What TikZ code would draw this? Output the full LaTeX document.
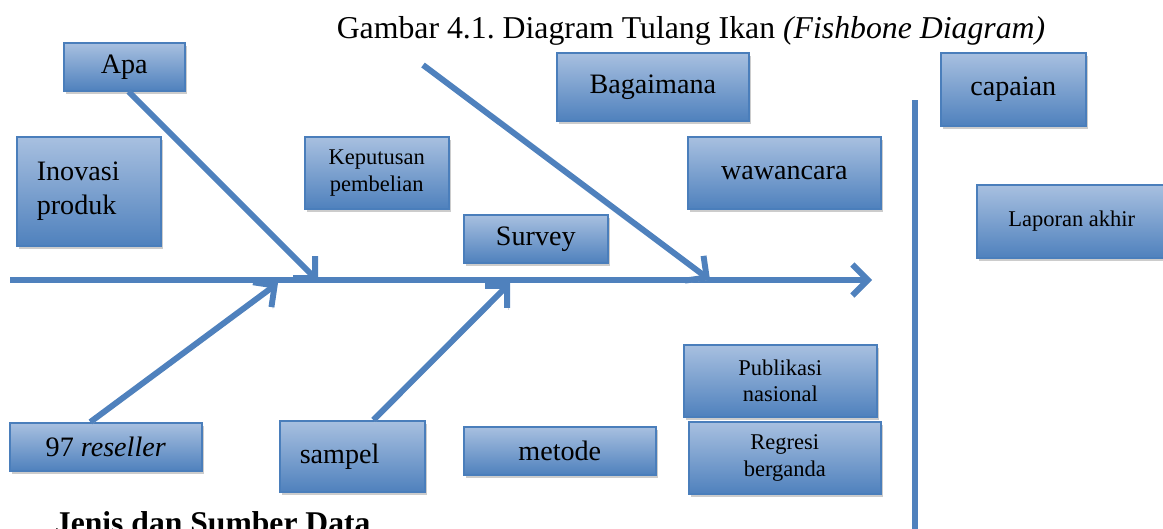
\documentclass[tikz,border=0pt]{standalone}
\usepackage{fontspec}
\setmainfont{Liberation Serif}
\usetikzlibrary{arrows.meta, positioning, shadows}
\definecolor{boneblue}{RGB}{79,129,189}
\definecolor{boxtop}{RGB}{168,192,224}
\definecolor{boxedge}{RGB}{74,126,187}
\frenchspacing

\begin{document}
\begin{tikzpicture}[
    x=0.025cm, y=-0.025cm,
    box/.style={rectangle, draw=boxedge, line width=1.1pt, top color=boxtop, bottom color=boneblue,
                anchor=north west, align=center, inner sep=0pt,
                drop shadow={shadow xshift=1.5pt, shadow yshift=-2.5pt, fill=black!20, opacity=1}},
    leftbox/.style={box, align=left, inner xsep=0.5cm},
    big/.style={font=\fontsize{20}{24}\selectfont},
    small/.style={font=\fontsize{16}{19}\selectfont},
    bone/.style={line width=4.2pt, draw=boneblue, -{Straight Barb[length=11pt,width=22pt]},
                 preaction={draw=black!15, transform canvas={shift={(1pt,-1.5pt)}}}},
  ]
  \useasboundingbox (0,0) rectangle (1163,528);

  % title
  \node[anchor=base, font=\fontsize{22.6}{26}\selectfont] (title) at (691,38)
    {Gambar 4.1. Diagram Tulang Ikan \textit{(Fishbone Diagram)}};

  % boxes above the spine
  \node[box, big, minimum width=3.025cm, minimum height=1.2cm] (apa) at (63,42) {Apa};
  \node[leftbox, big, text width=2.6cm, minimum height=2.725cm] (inovasi) at (16,136) {Inovasi\\produk};
  \node[box, small, minimum width=3.6cm, minimum height=1.8cm] (keputusan) at (304,136) {Keputusan\\pembelian};
  \node[box, big, minimum width=3.6cm, minimum height=1.2cm] (survey) at (463,214) {Survey};
  \node[box, big, minimum width=4.8cm, minimum height=1.7cm] (bagaimana) at (556,52) {Bagaimana};
  \node[box, big, minimum width=4.825cm, minimum height=1.8cm] (wawancara) at (687,136) {wawancara};
  \node[box, big, minimum width=3.625cm, minimum height=1.825cm] (capaian) at (940,52) {capaian};
  \node[box, small, minimum width=4.75cm, minimum height=1.825cm] (laporan) at (976,184) {Laporan akhir};

  % boxes below the spine
  \node[box, big, minimum width=4.8cm, minimum height=1.2cm] (reseller) at (9,422) {97 \textit{reseller}};
  \node[leftbox, big, text width=2.625cm, minimum height=1.775cm] (sampel) at (279,420) {sampel};
  \node[box, big, minimum width=4.8cm, minimum height=1.2cm] (metode) at (463,426) {metode};
  \node[box, small, minimum width=4.825cm, minimum height=1.8cm] (publikasi) at (683,344) {Publikasi\\nasional};
  \node[box, small, minimum width=4.8cm, minimum height=1.8cm] (regresi) at (688,421) {Regresi\\berganda};

  % spine and bones
  \coordinate (tail) at (10,280);
  \coordinate (head) at (872,280);
  \coordinate (joinapa) at (318,281);
  \coordinate (joinlong) at (710,280);
  \coordinate (joinreseller) at (278,283);
  \coordinate (joinsampel) at (510,283);
  \coordinate (longstart) at (423,65);
  \draw[bone] (tail) -- (head);
  \draw[bone] ([xshift=3pt]apa.south) -- (joinapa);
  \draw[bone] (longstart) -- (joinlong);
  \draw[bone] ([xshift=-11pt]reseller.north) -- (joinreseller);
  \draw[bone] ([xshift=15pt]sampel.north) -- (joinsampel);

  % divider
  \coordinate (divtop) at (915,100);
  \coordinate (divbot) at (915,540);
  \draw[line width=4.2pt, boneblue] (divtop) -- (divbot);

  \node[anchor=base west, font=\fontsize{22.5}{26}\selectfont\bfseries] (jenis) at (50,533)
    {Jenis dan Sumber Data};
\end{tikzpicture}
\end{document}
